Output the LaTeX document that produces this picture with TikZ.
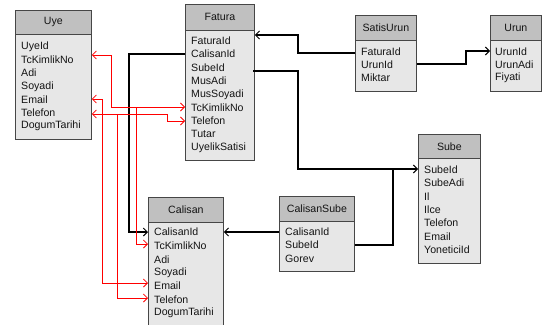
\documentclass[tikz,border=0pt]{standalone}
\usepackage{fontspec}
\setmainfont{Liberation Sans}
\usetikzlibrary{arrows.meta}
\definecolor{hdrgray}{RGB}{192,192,192}
\definecolor{bodygray}{RGB}{231,231,231}
\definecolor{edgegray}{RGB}{70,70,70}
\definecolor{txtgray}{RGB}{20,20,20}
\begin{document}
\begin{tikzpicture}[x=1pt,y=-1pt,
  hdr/.style={draw=edgegray, fill=hdrgray, line width=0.8pt, inner sep=0pt, anchor=north west, font=\fontsize{10.6}{12}\selectfont, text=txtgray},
  bdy/.style={draw=edgegray, fill=bodygray, line width=0.8pt, inner sep=0pt, anchor=north west},
  row/.style={anchor=west, inner sep=0pt, font=\fontsize{10.6}{12}\selectfont, text=txtgray},
  blk/.style={draw=black, line width=1.3pt, -{Straight Barb[length=4pt,width=8pt,line width=1pt]}},
  blkline/.style={draw=black, line width=1.3pt},
  rd/.style={draw=red, line width=0.9pt, -{Straight Barb[length=4pt,width=8pt,line width=0.8pt]}},
  rdline/.style={draw=red, line width=0.9pt},
  rdboth/.style={draw=red, line width=0.9pt, {Straight Barb[length=4pt,width=8pt,line width=0.8pt]}-{Straight Barb[length=4pt,width=8pt,line width=0.8pt]}}
]
\useasboundingbox (0,0) rectangle (543,324);
\fill[white] (0,0) rectangle (543,324);

% ---------- Uye ----------
\node[bdy, minimum width=76pt, minimum height=105pt] (uyeb) at (15,34) {};
\node[hdr, minimum width=76pt, minimum height=24pt] (uyeh) at (15,10) {Uye};
\node[row] (uye1) at (21,47) {UyeId};
\node[row] (uye2) at (21,60) {TcKimlikNo};
\node[row] (uye3) at (21,73) {Adi};
\node[row] (uye4) at (21,87) {Soyadi};
\node[row] (uye5) at (21,100) {Email};
\node[row] (uye6) at (21,113) {Telefon};
\node[row] (uye7) at (21,126) {DogumTarihi};

% ---------- Fatura ----------
\node[bdy, minimum width=69pt, minimum height=130pt] (fatb) at (185,30) {};
\node[hdr, minimum width=69pt, minimum height=26pt] (fath) at (185,4) {Fatura};
\node[row] (fat1) at (191,41) {FaturaId};
\node[row] (fat2) at (191,54) {CalisanId};
\node[row] (fat3) at (191,68) {SubeId};
\node[row] (fat4) at (191,81) {MusAdi};
\node[row] (fat5) at (191,95) {MusSoyadi};
\node[row] (fat6) at (191,108) {TcKimlikNo};
\node[row] (fat7) at (191,121) {Telefon};
\node[row] (fat8) at (191,134) {Tutar};
\node[row] (fat9) at (191,148) {UyelikSatisi};

% ---------- SatisUrun ----------
\node[bdy, minimum width=61pt, minimum height=51pt] (sub) at (355,40) {};
\node[hdr, minimum width=61pt, minimum height=25pt] (suh) at (355,15) {SatisUrun};
\node[row] (su1) at (361,52) {FaturaId};
\node[row] (su2) at (361,65) {UrunId};
\node[row] (su3) at (361,78) {Miktar};

% ---------- Urun ----------
\node[bdy, minimum width=51pt, minimum height=51pt] (urb) at (490,40) {};
\node[hdr, minimum width=51pt, minimum height=25pt] (urh) at (490,15) {Urun};
\node[row] (ur1) at (495,52) {UrunId};
\node[row] (ur2) at (495,65) {UrunAdi};
\node[row] (ur3) at (495,78) {Fiyati};

% ---------- Sube ----------
\node[bdy, minimum width=62pt, minimum height=105pt] (sbb) at (418,158) {};
\node[hdr, minimum width=62pt, minimum height=24pt] (sbh) at (418,134) {Sube};
\node[row] (sb1) at (424,170) {SubeId};
\node[row] (sb2) at (424,183) {SubeAdi};
\node[row] (sb3) at (424,197) {Il};
\node[row] (sb4) at (424,210) {Ilce};
\node[row] (sb5) at (424,223) {Telefon};
\node[row] (sb6) at (424,237) {Email};
\node[row] (sb7) at (424,250) {YoneticiId};

% ---------- CalisanSube ----------
\node[bdy, minimum width=75pt, minimum height=50pt] (csb) at (279,221) {};
\node[hdr, minimum width=75pt, minimum height=25pt] (csh) at (279,196) {CalisanSube};
\node[row] (cs1) at (285,232) {CalisanId};
\node[row] (cs2) at (285,245) {SubeId};
\node[row] (cs3) at (285,259) {Gorev};

% ---------- Calisan ----------
\node[bdy, minimum width=75pt, minimum height=110pt] (cab) at (148,222) {};
\node[hdr, minimum width=75pt, minimum height=25pt] (cah) at (148,197) {Calisan};
\node[row] (ca1) at (154,232) {CalisanId};
\node[row] (ca2) at (154,246) {TcKimlikNo};
\node[row] (ca3) at (154,260) {Adi};
\node[row] (ca4) at (154,273) {Soyadi};
\node[row] (ca5) at (154,286) {Email};
\node[row] (ca6) at (154,300) {Telefon};
\node[row] (ca7) at (154,313) {DogumTarihi};

% ---------- black connectors ----------
\coordinate (j1) at (298,169);
\draw[blk] (fatb.west |- 0,54) -- (129,54) -- (129,232) -- (cab.west |- 0,232);
\draw[blk] (sub.west |- 0,53) -- (298,53) -- (298,35) -- (fatb.east |- 0,35);
\draw[blk] (sub.east |- 0,64) -- (466,64) -- (466,51) -- (urb.west |- 0,51);
\draw[blk] (253,71) -- (298,71) -- (j1) -- (sbb.west |- 0,169);
\draw[blkline] (csb.east |- 0,245) -- (393,245) -- (393,169);
\draw[blk] (csb.west |- 0,232) -- (cab.east |- 0,232);

% ---------- red connectors ----------
\draw[rdboth] (uyeb.east |- 0,55) -- (111,55) -- (111,107) -- (fatb.west |- 0,107);
\draw[rd] (136,107) -- (136,244) -- (cab.west |- 0,244);
\draw[rdboth] (uyeb.east |- 0,99) -- (102,99) -- (102,283) -- (cab.west |- 0,283);
\draw[rdboth] (uyeb.east |- 0,114) -- (167,114) -- (167,121) -- (fatb.west |- 0,121);
\draw[rd] (117,114) -- (117,298) -- (cab.west |- 0,298);
\end{tikzpicture}
\end{document}
